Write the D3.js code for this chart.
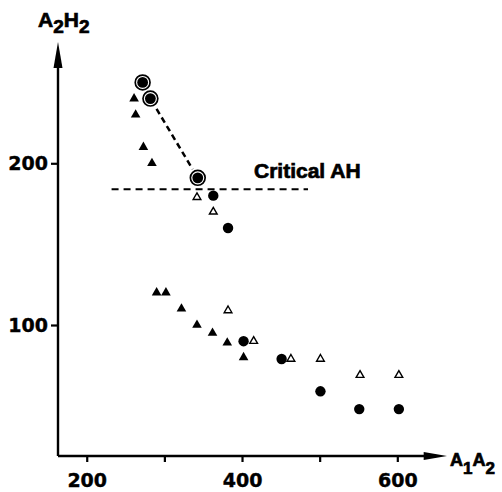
<!DOCTYPE html>
<html>
  <head>
    <title>A2H2 vs A1A2</title>
    <script src="https://cdn.jsdelivr.net/npm/d3@7"></script>
    <style>
      body { margin: 0; background: #fff; }
      text { font-family: "Liberation Sans", Arial, sans-serif; font-weight: bold; fill: #000; stroke: #000; stroke-width: 0.7px; }
      .tick text { font-family: "DejaVu Sans", sans-serif; font-size: 19px; stroke-width: 0.4px; }
    </style>
  </head>
  <body>
    <svg width="502" height="492" id="mainsvg"></svg>
    <script>
      // data: [A1A2, A2H2]
      const solidTriangles = [[261, 240], [263, 230], [273, 210], [284, 200],
                              [290, 120], [302, 120], [322, 110], [342, 100], [362, 95], [381, 89], [402, 80]];
      const openTriangles = [[342, 179], [363, 170], [382, 109], [415, 90], [463, 79], [501, 79], [552, 69], [602, 69]];
      const solidCircles = [[363, 180], [382, 160], [402, 90], [451, 79], [501, 59], [551, 48], [602, 48]];
      const ringedCircles = [[272, 250], [282, 240], [343, 191]];
      const criticalAH = 184;
      const criticalSpan = [232, 485];
      const xTicks = [200, 300, 400, 500, 600];
      const xTickLabels = [200, 400, 600];
      const yTicks = [100, 200];

      const svg = d3.select('#mainsvg');
      const x = d3.scaleLinear().domain([163, 664]).range([58, 447]);
      const y = d3.scaleLinear().domain([19, 275]).range([456, 42]);

      // axes
      const xAxis = svg.append('g').attr('transform', `translate(0, ${y(19)})`)
        .call(d3.axisBottom(x).tickValues(xTicks).tickSize(6)
          .tickFormat(d => xTickLabels.includes(d) ? d : ''));
      xAxis.select('.domain').remove();
      xAxis.selectAll('line').attr('stroke-width', 2.2);
      xAxis.selectAll('text').attr('y', 31).attr('dy', 0);

      const yAxis = svg.append('g').attr('transform', `translate(${x(163)}, 0)`)
        .call(d3.axisLeft(y).tickValues(yTicks).tickSize(7));
      yAxis.select('.domain').remove();
      yAxis.selectAll('line').attr('stroke-width', 2.2);
      yAxis.selectAll('text').attr('x', -10);

      // axis lines with arrow heads
      svg.append('path')
        .attr('d', `M${x(163)},${y(19)}H${x(650)}M${x(163)},${y(19)}V${y(260)}`)
        .attr('stroke', '#000').attr('stroke-width', 2.4).attr('fill', 'none');
      svg.append('path')
        .attr('d', `M${x(664)},${y(19)}L${x(634)},${y(19) - 4}L${x(634)},${y(19) + 4}Z`);
      svg.append('path')
        .attr('d', `M${x(163)},${y(275)}L${x(163) - 4.5},${y(259)}L${x(163) + 4.5},${y(259)}Z`);

      // axis titles
      const yTitle = svg.append('text').attr('x', 38).attr('y', 27).attr('font-size', 21);
      yTitle.append('tspan').text('A');
      yTitle.append('tspan').attr('font-size', 19).attr('dy', 6).text('2');
      yTitle.append('tspan').attr('dy', -6).text('H');
      yTitle.append('tspan').attr('font-size', 19).attr('dy', 6).text('2');

      const xTitle = svg.append('text').attr('x', 450).attr('y', 466).attr('font-size', 18);
      xTitle.append('tspan').text('A');
      xTitle.append('tspan').attr('font-size', 17).attr('dy', 8).text('1');
      xTitle.append('tspan').attr('dy', -8).text('A');
      xTitle.append('tspan').attr('font-size', 17).attr('dy', 8).text('2');

      // critical AH line
      svg.append('line')
        .attr('x1', x(criticalSpan[0])).attr('x2', x(criticalSpan[1]))
        .attr('y1', y(criticalAH)).attr('y2', y(criticalAH))
        .attr('stroke', '#000').attr('stroke-width', 2).attr('stroke-dasharray', '7,5');
      svg.append('text').attr('x', 254).attr('y', 178).attr('font-size', 21).text('Critical AH');

      // dashed link between the last two ringed points, trimmed to the rings
      const p1 = [x(ringedCircles[1][0]), y(ringedCircles[1][1])];
      const p2 = [x(ringedCircles[2][0]), y(ringedCircles[2][1])];
      const len = Math.hypot(p2[0] - p1[0], p2[1] - p1[1]);
      const ux = (p2[0] - p1[0]) / len, uy = (p2[1] - p1[1]) / len;
      svg.append('line')
        .attr('x1', p1[0] + ux * 12).attr('y1', p1[1] + uy * 12)
        .attr('x2', p2[0] - ux * 10).attr('y2', p2[1] - uy * 10)
        .attr('stroke', '#000').attr('stroke-width', 2.5).attr('stroke-dasharray', '6,4');

      // markers
      const g = svg.append('g');
      g.selectAll('path.solidTri').data(solidTriangles).join('path')
        .attr('class', 'solidTri')
        .attr('transform', d => `translate(${x(d[0])},${y(d[1])})`)
        .attr('d', d3.symbol(d3.symbolTriangle, 40));
      g.selectAll('path.openTri').data(openTriangles).join('path')
        .attr('class', 'openTri')
        .attr('transform', d => `translate(${x(d[0])},${y(d[1])})`)
        .attr('d', d3.symbol(d3.symbolTriangle, 26))
        .attr('fill', '#fff').attr('stroke', '#000').attr('stroke-width', 1.4);
      g.selectAll('circle.solid').data(solidCircles).join('circle')
        .attr('class', 'solid')
        .attr('cx', d => x(d[0])).attr('cy', d => y(d[1])).attr('r', 5.2);
      const ring = g.selectAll('g.ring').data(ringedCircles).join('g')
        .attr('class', 'ring')
        .attr('transform', d => `translate(${x(d[0])},${y(d[1])})`);
      ring.append('circle').attr('r', 7.4).attr('fill', '#fff').attr('stroke', '#000').attr('stroke-width', 1.7);
      ring.append('circle').attr('r', 5.4).attr('fill', '#000');
    </script>
  </body>
</html>
